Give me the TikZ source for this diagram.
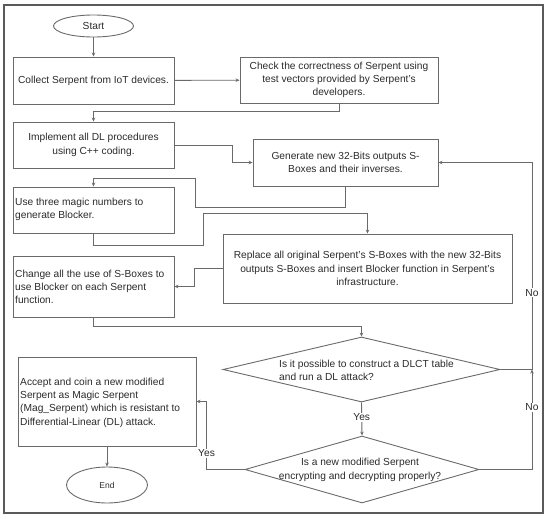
\documentclass[tikz,border=0pt]{standalone}
\usepackage{fontspec}
\setmainfont{Liberation Sans}
\usetikzlibrary{shapes.geometric,arrows.meta}
\definecolor{linegray}{HTML}{6A6A6A}
\definecolor{framegray}{HTML}{5A5A5A}
\definecolor{txt}{HTML}{2A2A2A}
\tikzset{
  box/.style={draw=linegray, line width=0.9pt, rectangle, inner sep=3pt, text=txt, font=\fontsize{10.2}{13.3}\selectfont},
  oval/.style={draw=linegray, line width=0.9pt, ellipse, inner sep=0pt, text=txt},
  dia/.style={draw=linegray, line width=0.9pt, diamond, inner sep=0pt},
  lbl/.style={text=txt, font=\fontsize{10.2}{13.3}\selectfont, inner sep=0pt},
  conn/.style={draw=linegray, line width=0.9pt, -{Stealth[length=4pt,width=3.5pt]}},
  tag/.style={fill=white, text=txt, font=\fontsize{10.2}{12}\selectfont, inner sep=1pt},
}
\begin{document}
\begin{tikzpicture}[x=1pt,y=-1pt]
\useasboundingbox (0,0) rectangle (550,519);
\draw[draw=framegray, line width=1.2pt] (4,5) rectangle (543,513);

\node[oval, minimum width=80, minimum height=22, font=\fontsize{10.2}{12}\selectfont] (start) at (93.5,26) {Start};
\node[box, minimum width=161, minimum height=47, align=center] (collect) at (93.5,80.5) {Collect Serpent from IoT devices.};
\node[box, minimum width=198, minimum height=46, align=center] (check) at (339,80) {Check the correctness of Serpent using\\test vectors provided by Serpent's\\developers.};
\node[box, minimum width=161, minimum height=46, align=center] (impl) at (93.5,145) {Implement all DL procedures\\using C++ coding.};
\node[box, minimum width=185, minimum height=47, align=center] (gen) at (345.5,162.5) {Generate new 32-Bits outputs S-\\Boxes and their inverses.};
\node[box, minimum width=161, minimum height=46] (use) at (93.5,210) {};
\node[lbl, anchor=west, align=left] (uset) at (15,209.5) {Use three magic numbers to\\generate Blocker.};
\node[box, minimum width=289, minimum height=69, align=center] (repl) at (367.5,268.5) {Replace all original Serpent's S-Boxes with the new 32-Bits\\outputs S-Boxes and insert Blocker function in Serpent's\\infrastructure.};
\node[box, minimum width=161, minimum height=61] (change) at (93.5,286.5) {};
\node[lbl, anchor=west, align=left] (changet) at (15,287) {Change all the use of S-Boxes to\\use Blocker on each Serpent\\function.};
\node[dia, minimum width=277, minimum height=65] (d1) at (361.5,369.5) {};
\node[lbl, anchor=west, align=left] (d1t) at (279,370.5) {Is it possible to construct a DLCT table\\and run a DL attack?};
\node[dia, minimum width=234, minimum height=67] (d2) at (362,469.5) {};
\node[lbl, align=center] (d2t) at (360,470) {Is a new modified Serpent\\encrypting and decrypting properly?};
\node[box, minimum width=178, minimum height=89] (accept) at (107,401.5) {};
\node[lbl, anchor=west, align=left] (acceptt) at (20,402.5) {Accept and coin a new modified\\Serpent as Magic Serpent\\(Mag\_Serpent) which is resistant to\\Differential-Linear (DL) attack.};
\node[oval, minimum width=81, minimum height=36, font=\fontsize{8.5}{10}\selectfont] (end) at (107,485) {End};

\coordinate (joinA) at (532,369.5);

\draw[conn] (start) -- (collect);
\draw[conn] (collect) -- (check);
\draw[conn] (check.south) -- ++(0,8) -| (impl.north);
\draw[conn] (impl.east) -- ++(58,0) |- (gen.west);
\draw[conn] (gen.south) -- ++(0,21) -- ++(-150,0) -- ++(0,-29) -| (use.north);
\draw[conn] (use.south) -- ++(0,12) -- ++(110,0) -- ++(0,-32) -| (repl.north);
\draw[conn] (repl.west) -- ++(-28,0) |- (change.east);
\draw[conn] (change.south) -- ++(0,9) -| (d1.north);
\draw[conn] (d1.south) -- node[tag, pos=0.45] {Yes} (d2.north);
\draw[conn] (d1.east) -- (joinA) |- node[tag, pos=0.185] {No} (gen.east);
\draw[conn] (d2.east) -| node[tag, pos=0.81] {No} (joinA);
\draw[conn] (d2.west) -- ++(-38,0) |- node[tag, pos=0.12] {Yes} (accept.east);
\draw[conn] (accept.south) -- (end.north);
\end{tikzpicture}
\end{document}
